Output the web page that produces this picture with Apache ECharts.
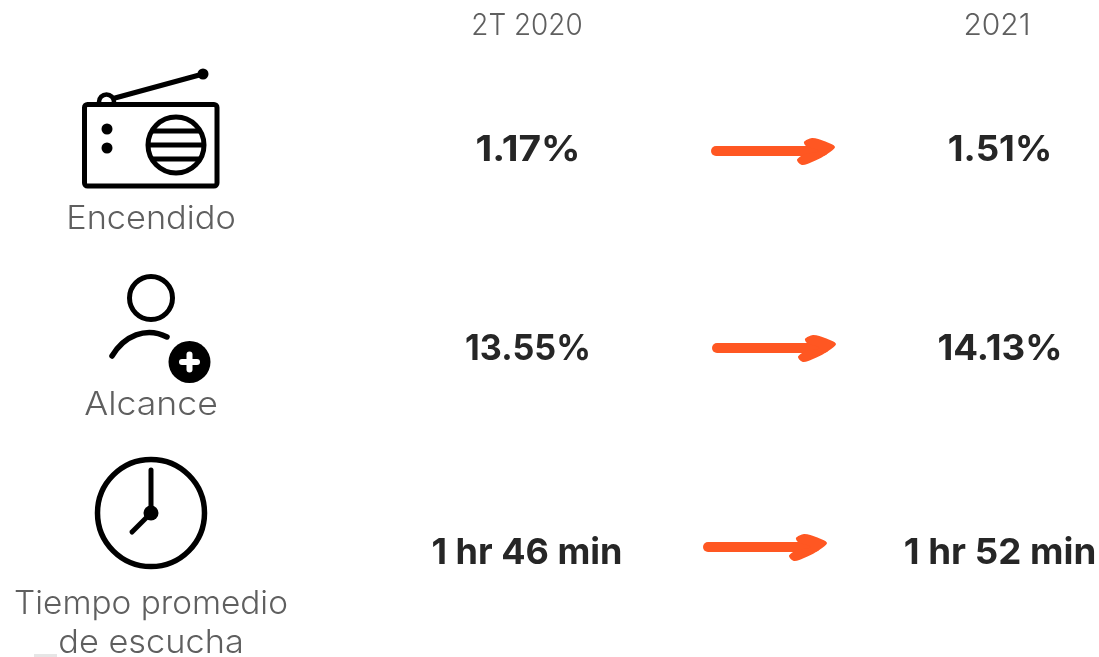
<!DOCTYPE html>
<html>
<head>
<meta charset="utf-8">
<style>html,body{margin:0;padding:0;background:#fff}#chart{width:1099px;height:657px}</style>
<script src="https://cdn.jsdelivr.net/npm/echarts@6/dist/echarts.min.js"></script>
</head>
<body>
<div id="chart"></div>
<script>
// Radio audience indicators: start period versus 2021
const periods = ['2T 2020', '2021'];
const metrics = ['Encendido', 'Alcance', 'Tiempo promedio', 'de escucha'];
const startValues = ['1.17%', '13.55%', '1 hr 46 min'];
const endValues = ['1.51%', '14.13%', '1 hr 52 min'];

const INK = '#000000', GREY = '#5f5f5f', DARK = '#262626', ORANGE = '#ff5722';
const FAMILY = 'Inter, "Open Sans", sans-serif';

function text(str, x, y, size, color, weight, sx) {
  return { type: 'text', x, y, scaleX: sx || 1, silent: true,
    style: { text: str, fill: color, font: `${weight} ${size}px ${FAMILY}`, align: 'center', verticalAlign: 'middle' } };
}
function ring(cx, cy, r, lw) {
  return { type: 'circle', shape: { cx, cy, r }, style: { fill: null, stroke: INK, lineWidth: lw } };
}
function dot(cx, cy, r, fill) {
  return { type: 'circle', shape: { cx, cy, r }, style: { fill: fill || INK } };
}
function seg(x1, y1, x2, y2, lw, color) {
  return { type: 'line', shape: { x1, y1, x2, y2 }, style: { stroke: color || INK, lineWidth: lw, lineCap: 'round' } };
}
// Hand-drawn style arrow: rounded shaft plus a swept head
function arrow(x, y) {
  return { type: 'group', x, y, silent: true, children: [
    seg(5, 0, 112, 0, 10, ORANGE),
    { type: 'polygon', shape: { smooth: 0.3, points: [[93, -9], [101, -13], [113, -10], [124, -4], [113, 5], [101, 11], [91, 14], [86, 9], [92, 4], [108, 0], [95, -5]] },
      style: { fill: ORANGE } }
  ] };
}

const radio = [
  { type: 'rect', shape: { x: 84.5, y: 104.5, width: 132.5, height: 81.5, r: 3 }, style: { fill: null, stroke: INK, lineWidth: 5 } },
  seg(115, 98, 203, 74, 5),
  dot(203, 74, 5.5),
  { type: 'arc', shape: { cx: 106.5, cy: 102, r: 7.5, startAngle: Math.PI, endAngle: 0, clockwise: true }, style: { fill: null, stroke: INK, lineWidth: 4.5 } },
  dot(107, 129, 5.5), dot(107, 148, 5.5),
  ring(176, 145, 28, 5),
  { type: 'line', shape: { x1: 152, y1: 131, x2: 200, y2: 131 }, style: { stroke: INK, lineWidth: 5 } },
  { type: 'line', shape: { x1: 148, y1: 145, x2: 204, y2: 145 }, style: { stroke: INK, lineWidth: 5 } },
  { type: 'line', shape: { x1: 152, y1: 159, x2: 200, y2: 159 }, style: { stroke: INK, lineWidth: 5 } }
];

const person = [
  ring(151, 298, 21.5, 5),
  { type: 'bezierCurve', shape: { x1: 112, y1: 356, cpx1: 124, cpy1: 336, cpx2: 146, cpy2: 326, x2: 167, y2: 337 },
    style: { fill: null, stroke: INK, lineWidth: 5.5, lineCap: 'round' } },
  dot(189.5, 362, 21),
  seg(182, 362, 197, 362, 6, '#ffffff'),
  seg(189.5, 354.5, 189.5, 369.5, 6, '#ffffff')
];

const clock = [
  ring(151, 513, 53.5, 5.5),
  seg(151, 470, 151, 513, 5),
  seg(151, 513, 132, 532, 5),
  dot(151, 513, 7.5)
];

const elements = [
  ...radio, ...person, ...clock,
  text(periods[0], 527, 26, 30, GREY, 300, 0.93),
  text(periods[1], 997, 26, 30, GREY, 300, 1),
  text(metrics[0], 151, 219, 33, GREY, 300, 1.04),
  text(metrics[1], 151, 405, 33, GREY, 300, 1.08),
  text(metrics[2], 151, 604, 33, GREY, 300, 1.01),
  text(metrics[3], 151, 643, 33, GREY, 300, 1.04),
  text(startValues[0], 528, 150, 36, DARK, 700, 1.08),
  text(endValues[0], 1000, 150, 36, DARK, 700, 1.02),
  text(startValues[1], 528, 349, 36, DARK, 700, 0.95),
  text(endValues[1], 1000, 349, 36, DARK, 700, 1.02),
  text(startValues[2], 527, 553, 36, DARK, 700, 1.0),
  text(endValues[2], 1000, 553, 36, DARK, 700, 1.02),
  arrow(711, 151), arrow(712, 348), arrow(703, 547),
  { type: 'rect', shape: { x: 34, y: 654, width: 23, height: 3 }, style: { fill: '#e6e6e6' } }
];

const chart = echarts.init(document.getElementById('chart'));
chart.setOption({ animation: false, backgroundColor: '#ffffff', graphic: { elements } });
</script>
</body>
</html>
